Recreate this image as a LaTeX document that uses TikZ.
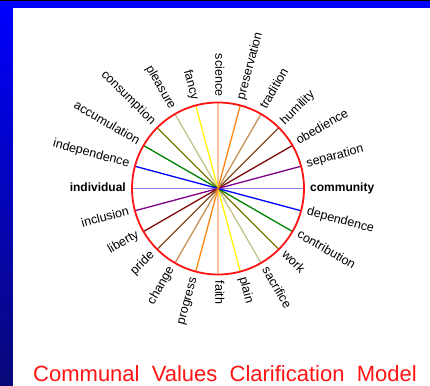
\documentclass[tikz,border=0pt]{standalone}
\usepackage{fontspec}
\setmainfont{Liberation Sans}
\newfontfamily\titlefont[WordSpace=2]{Liberation Sans}
\usetikzlibrary{calc}
\definecolor{FrameBlue}{RGB}{0,0,255}
\definecolor{FrameNavy}{RGB}{8,8,120}
\definecolor{TitleRed}{RGB}{255,20,20}
\definecolor{WheelRed}{RGB}{255,20,20}
% one colour per pair of opposite values
\definecolor{CommIndiv}  {RGB}{150,120,235}
\definecolor{SepIncl}    {RGB}{128,0,140}
\definecolor{ObedLib}    {RGB}{125,10,10}
\definecolor{HumPride}   {RGB}{130,75,30}
\definecolor{TradChange} {RGB}{200,145,85}
\definecolor{PresProg}   {RGB}{255,135,20}
\definecolor{SciFaith}   {RGB}{250,195,160}
\definecolor{FancyPlain} {RGB}{255,245,0}
\definecolor{PleasSacr}  {RGB}{195,195,140}
\definecolor{ConsWork}   {RGB}{125,120,0}
\definecolor{AccContr}   {RGB}{0,130,0}
\definecolor{IndepDep}   {RGB}{0,0,255}

\begin{document}
\begin{tikzpicture}[x=1pt,y=1pt,
  value/.style={inner sep=0pt,font=\fontsize{12.5}{14}\selectfont},
  pole/.style={inner sep=0pt,font=\fontsize{12}{14}\selectfont\bfseries},
  spoke/.style={line width=1.3pt}]
\useasboundingbox (-218,-196.5) rectangle (212,188.5);
% slide frame
\fill[white] (-218,-196.5) rectangle (212,188.5);
\shade[top color=FrameBlue,bottom color=FrameNavy] (-218,-196.5) rectangle (-205,188.5);
\fill[FrameBlue] (-218,180.5) rectangle (212,188.5);
\fill[black] (-218,187) rectangle (212,188.5);

% points on the rim
\foreach \a in {0,15,...,345} \coordinate (c\a) at (\a:86);

% diameters
\draw[spoke,SciFaith]   (c90)  -- (c270);
\draw[spoke,FancyPlain] (c105) -- (c285);
\draw[spoke,PleasSacr]  (c120) -- (c300);
\draw[spoke,ConsWork]   (c135) -- (c315);
\draw[spoke,AccContr]   (c150) -- (c330);
\draw[spoke,IndepDep]   (c165) -- (c345);
\draw[spoke,CommIndiv]  (c180) -- (c0);
\draw[spoke,SepIncl]    (c195) -- (c15);
\draw[spoke,ObedLib]    (c210) -- (c30);
\draw[spoke,HumPride]   (c225) -- (c45);
\draw[spoke,TradChange] (c240) -- (c60);
\draw[spoke,PresProg]   (c255) -- (c75);

\node[draw=WheelRed,circle,line width=1.8pt,minimum size=172pt,inner sep=0pt] (wheel) at (0,0) {};

% right half, reading outwards
\node[pole,anchor=mid west] (community) at (0:92) {community};
\node[value,rotate=15,anchor=mid west] (separation) at (15:92) {separation};
\node[value,rotate=30,anchor=mid west] (obedience) at (30:92) {obedience};
\node[value,rotate=45,anchor=mid west] (humility) at (45:92) {humility};
\node[value,rotate=60,anchor=mid west] (tradition) at (60:92) {tradition};
\node[value,rotate=75,anchor=mid west] (preservation) at (75:92) {preservation};
\node[value,rotate=-90,anchor=mid west] (faith) at (270:92) {faith};
\node[value,rotate=-75,anchor=mid west] (plain) at (285:92) {plain};
\node[value,rotate=-60,anchor=mid west] (sacrifice) at (300:92) {sacrifice};
\node[value,rotate=-45,anchor=mid west] (work) at (315:92) {work};
\node[value,rotate=-30,anchor=mid west] (contribution) at (330:92) {contribution};
\node[value,rotate=-15,anchor=mid west] (dependence) at (345:92) {dependence};

% left half, reading inwards
\node[pole,anchor=mid east] (individual) at (180:92) {individual};
\node[value,rotate=-90,anchor=mid east] (science) at (90:92) {science};
\node[value,rotate=-75,anchor=mid east] (fancy) at (105:92) {fancy};
\node[value,rotate=-60,anchor=mid east] (pleasure) at (120:92) {pleasure};
\node[value,rotate=-45,anchor=mid east] (consumption) at (135:92) {consumption};
\node[value,rotate=-30,anchor=mid east] (accumulation) at (150:92) {accumulation};
\node[value,rotate=-15,anchor=mid east] (independence) at (165:92) {independence};
\node[value,rotate=15,anchor=mid east] (inclusion) at (195:92) {inclusion};
\node[value,rotate=30,anchor=mid east] (liberty) at (210:92) {liberty};
\node[value,rotate=45,anchor=mid east] (pride) at (225:92) {pride};
\node[value,rotate=60,anchor=mid east] (change) at (240:92) {change};
\node[value,rotate=75,anchor=mid east] (progress) at (255:92) {progress};

\node[font=\titlefont\fontsize{22}{26}\selectfont,text=TitleRed,anchor=base,inner sep=0pt] (title) at (7,-193) {Communal Values Clarification Model};
\end{tikzpicture}
\end{document}
